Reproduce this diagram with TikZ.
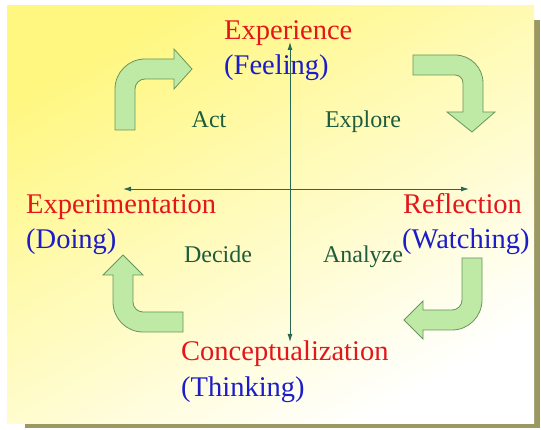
\documentclass[tikz,border=0pt]{standalone}
\usepackage{fontspec}
\setmainfont{Liberation Serif}
\usetikzlibrary{arrows.meta}

\definecolor{panelyellow}{RGB}{255,247,128}
\definecolor{panelmid}{RGB}{255,255,200}
\definecolor{panelshadow}{RGB}{155,152,98}
\definecolor{arrowfill}{RGB}{190,234,166}
\definecolor{arrowline}{RGB}{104,150,92}
\definecolor{axiscol}{RGB}{40,104,84}
\definecolor{stagered}{RGB}{228,22,28}
\definecolor{modeblue}{RGB}{28,28,200}
\definecolor{stepgreen}{RGB}{30,92,62}

\begin{document}
\begin{tikzpicture}[x=1pt,y=-1pt,
  bentarrow/.style={fill=arrowfill,draw=arrowline,line width=0.8pt,line join=miter},
  axisline/.style={draw=axiscol,line width=0.9pt,
    {Latex[length=8pt,width=5pt]}-{Latex[length=8pt,width=5pt]}},
  stage/.style={font=\fontsize{28.5}{34}\selectfont,anchor=base west,inner sep=0pt,text=stagered},
  mode/.style={font=\fontsize{28.5}{34}\selectfont,anchor=base west,inner sep=0pt,text=modeblue},
  steplabel/.style={font=\fontsize{24}{28}\selectfont,anchor=base,inner sep=0pt,text=stepgreen}
]
\useasboundingbox (0,0) rectangle (541,430);

% panel with its drop shadow
\fill[panelshadow] (25,20) rectangle (540,428);
\shade[top color=panelyellow,middle color=panelmid,bottom color=white,shading angle=30]
  (7,6) rectangle (534,423);

% axes
\coordinate (ytop) at (290,42);
\coordinate (ybot) at (290,342);
\coordinate (xleft) at (123,189);
\coordinate (xright) at (469,189);
\draw[axisline] (ybot) -- (ytop);
\draw[axisline] (xleft) -- (xright);

% bent block arrows of the cycle
\draw[bentarrow] (115,130) -- (115,89) arc[start angle=180,end angle=270,radius=30]
  -- (174,59) -- (174,49) -- (192,69) -- (174,89) -- (174,79) -- (145,79)
  arc[start angle=270,end angle=180,radius=10] -- (135,130) -- cycle;
\draw[bentarrow] (413,55) -- (455,55) arc[start angle=270,end angle=360,radius=28]
  -- (483,112) -- (495,112) -- (472,132) -- (447,112) -- (463,112) -- (463,83)
  arc[start angle=0,end angle=-90,radius=8] -- (413,75) -- cycle;
\draw[bentarrow] (482,258) -- (482,300) arc[start angle=0,end angle=90,radius=30]
  -- (423,330) -- (423,339) -- (404,320) -- (423,301) -- (423,310) -- (452,310)
  arc[start angle=90,end angle=0,radius=10] -- (462,258) -- cycle;
\draw[bentarrow] (183,332) -- (143,332) arc[start angle=90,end angle=180,radius=30]
  -- (113,275) -- (103,275) -- (123,255) -- (143,275) -- (133,275) -- (133,302)
  arc[start angle=180,end angle=90,radius=10] -- (183,312) -- cycle;

% stages and modes
\node[stage] (exp) at (224,40) {Experience};
\node[mode] (feel) at (224,75) {(Feeling)};
\node[stage] (refl) at (403,214) {Reflection};
\node[mode] (watch) at (402,249) {(Watching)};
\node[stage] (conc) at (181,361) {Conceptualization};
\node[mode] (think) at (181,396) {(Thinking)};
\node[stage] (expm) at (26,214) {Experimentation};
\node[mode] (doing) at (26,249) {(Doing)};

% steps between stages
\node[steplabel] (act) at (209,128) {Act};
\node[steplabel] (explore) at (363,128) {Explore};
\node[steplabel] (analyze) at (363,263) {Analyze};
\node[steplabel] (decide) at (218,263) {Decide};
\end{tikzpicture}
\end{document}
